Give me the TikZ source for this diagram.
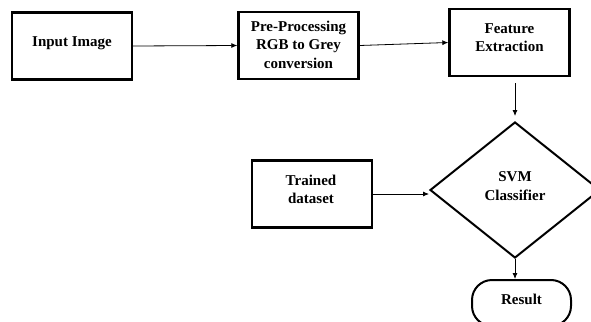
\documentclass[tikz,border=0pt]{standalone}
\usepackage{fontspec}
\setmainfont{Liberation Serif}
\usetikzlibrary{shapes.geometric,arrows.meta}
\begin{document}
\begin{tikzpicture}[x=1pt,y=-1pt,
  box/.style={draw,line width=2.4pt,minimum width=120pt,minimum height=67pt,inner sep=0pt},
  txt/.style={font=\fontsize{15}{18.5}\selectfont\bfseries,align=center,inner sep=0pt},
  arr/.style={-{Latex[length=6pt,width=5pt]},line width=0.8pt},
  dia/.style={draw,diamond,line width=2pt,minimum width=170pt,minimum height=136pt,inner sep=0pt}]
\useasboundingbox (0,0) rectangle (591,321);
\clip (0,0) rectangle (591,321);
% boxes
\node[box] (in) at (72,46) {};
\node[txt] (inT) at (72,43) {Input Image};
\node[box] (pre) at (298.5,45.5) {};
\node[txt] (preT) at (298.5,44.5) {Pre-Processing\\RGB to Grey\\conversion};
\node[box] (feat) at (509.5,42.5) {};
\node[txt] (featT) at (509.5,37.5) {Feature\\Extraction};
\node[dia] (svm) at (515,190) {};
\node[txt] (svmT) at (515,186) {SVM\\Classifier};
\node[box] (train) at (312,194) {};
\node[txt] (trainT) at (311,189.5) {Trained\\dataset};
\node[draw,line width=2pt,rounded corners=20pt,minimum width=99pt,minimum height=46pt,inner sep=0pt] (res) at (521.5,303) {};
\node[txt] (resT) at (521.5,299) {Result};
% connectors
\draw[arr] (in.east) -- (pre.west);
\draw[arr] (pre.east) -- (feat.west);
\draw[arr,shorten <=6pt,shorten >=5pt] (feat.south -| svm.north) -- (svm.north);
\draw[arr] (train.east) -- (svm.west |- train.east);
\draw[arr] (svm.south) -- (svm.south |- res.north);
\end{tikzpicture}
\end{document}
